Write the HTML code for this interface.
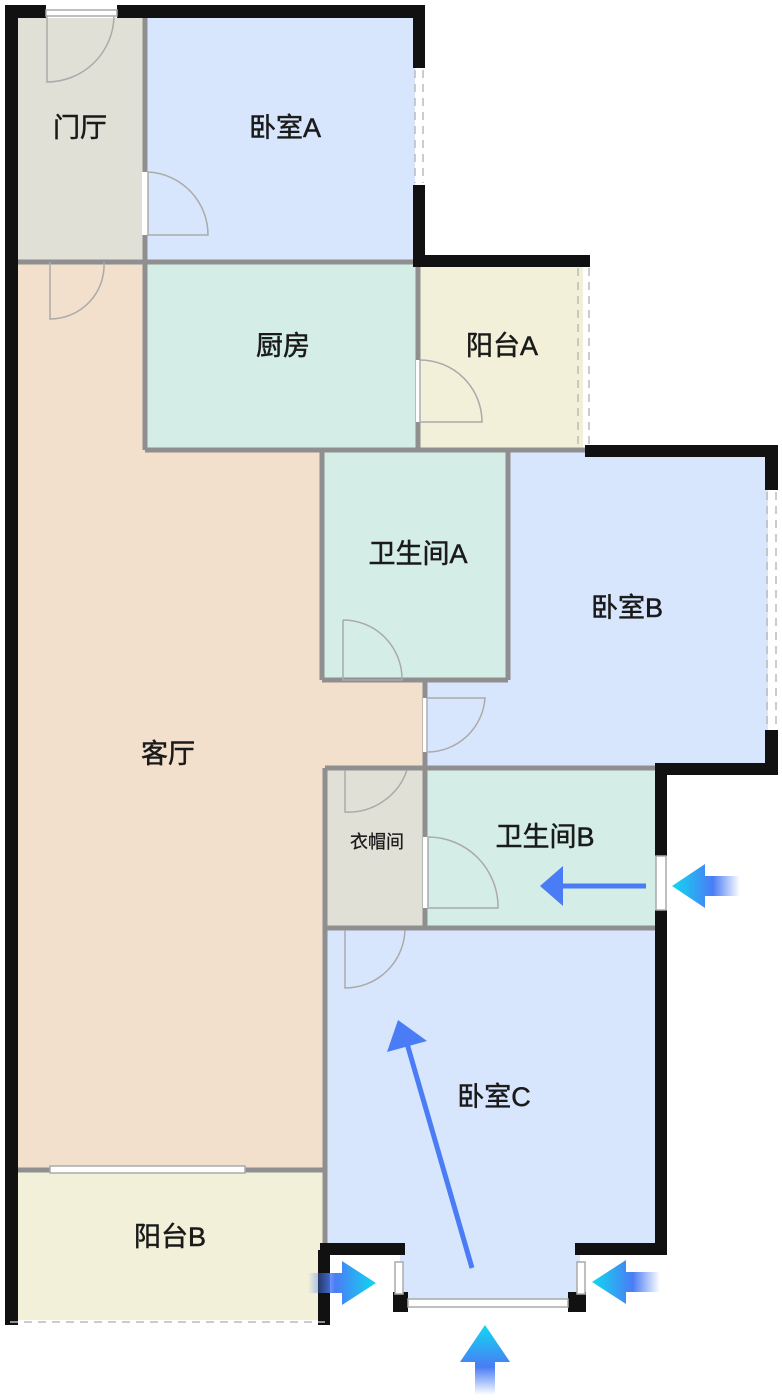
<!DOCTYPE html>
<html><head><meta charset="utf-8"><style>
html,body{margin:0;padding:0;background:#fff;}
svg{display:block}
text{font-family:"Liberation Sans","Noto Sans CJK SC",sans-serif;fill:#1a1a1a;text-anchor:middle;dominant-baseline:middle}
</style></head><body>
<svg width="782" height="1400" viewBox="0 0 782 1400" xmlns="http://www.w3.org/2000/svg">
<defs>
<linearGradient id="gl" x1="0" x2="1" y1="0" y2="0"><stop offset="0" stop-color="#10d8f0"/><stop offset="0.6" stop-color="#4a7cf5"/><stop offset="1" stop-color="#4a7cf5" stop-opacity="0"/></linearGradient>
<linearGradient id="gr" x1="1" x2="0" y1="0" y2="0"><stop offset="0" stop-color="#10d8f0"/><stop offset="0.6" stop-color="#4a7cf5"/><stop offset="1" stop-color="#4a7cf5" stop-opacity="0"/></linearGradient>
<linearGradient id="gu" x1="0" x2="0" y1="0" y2="1"><stop offset="0" stop-color="#10d8f0"/><stop offset="0.6" stop-color="#4a7cf5"/><stop offset="1" stop-color="#4a7cf5" stop-opacity="0"/></linearGradient>
</defs>
<!-- fills -->
<rect x="18" y="262" width="407" height="908" fill="#f2dfcc"/>
<rect x="18" y="18" width="127" height="244" fill="#e0e0d6"/>
<rect x="145" y="18" width="270" height="244" fill="#d8e6fd"/>
<rect x="145" y="262" width="273" height="188" fill="#d4ede6"/>
<rect x="418" y="266" width="165" height="184" fill="#f2f0d8"/>
<rect x="425" y="450" width="343" height="318" fill="#d8e6fd"/>
<rect x="322" y="450" width="186" height="230" fill="#d4ede6"/>
<rect x="325" y="768" width="100" height="160" fill="#e0e0d6"/>
<rect x="425" y="768" width="235" height="160" fill="#d4ede6"/>
<rect x="325" y="928" width="335" height="325" fill="#d8e6fd"/>
<rect x="400" y="1250" width="180" height="55" fill="#d8e6fd"/>
<rect x="18" y="1170" width="307" height="150" fill="#f2f0d8"/>
<!-- grey interior walls -->
<g stroke="#8f8f8f" stroke-width="5" fill="none">
<line x1="145" y1="12" x2="145" y2="450"/>
<line x1="12" y1="262" x2="420" y2="262"/>
<line x1="418" y1="262" x2="418" y2="450"/>
<line x1="145" y1="450" x2="322" y2="450"/>
<line x1="322" y1="450" x2="585" y2="450"/>
<line x1="322" y1="450" x2="322" y2="680"/>
<line x1="508" y1="450" x2="508" y2="680"/>
<line x1="322" y1="680" x2="508" y2="680"/>
<line x1="425" y1="680" x2="425" y2="928"/>
<line x1="325" y1="768" x2="660" y2="768"/>
<line x1="325" y1="768" x2="325" y2="1255"/>
<line x1="325" y1="928" x2="662" y2="928"/>
<line x1="18" y1="1170" x2="325" y2="1170"/>
</g>
<!-- black exterior walls -->
<g fill="#111">
<rect x="5" y="5" width="13" height="1320"/>
<rect x="5" y="5" width="41" height="13"/>
<rect x="117" y="5" width="308" height="13"/>
<rect x="413" y="5" width="12" height="63"/>
<rect x="413" y="185" width="12" height="82"/>
<rect x="413" y="255" width="177" height="12"/>
<rect x="585" y="445" width="193" height="12"/>
<rect x="765" y="445" width="13" height="45"/>
<rect x="765" y="730" width="13" height="45"/>
<rect x="655" y="763" width="123" height="12"/>
<rect x="655" y="768" width="12" height="88"/>
<rect x="655" y="910" width="12" height="345"/>
<rect x="575" y="1243" width="92" height="12"/>
<rect x="575" y="1243" width="12" height="10"/>
<rect x="320" y="1243" width="85" height="12"/>
<rect x="318" y="1250" width="12" height="75"/>
<rect x="393" y="1292" width="15" height="20"/>
<rect x="568" y="1292" width="18" height="20"/>
</g>
<!-- windows -->
<g stroke="#aaa" stroke-width="1.5" fill="#fff">
<rect x="46" y="10" width="71" height="6"/>
<rect x="408" y="1299" width="160" height="8"/>
<rect x="395" y="1262" width="8" height="32"/>
<rect x="577" y="1262" width="8" height="32"/>
<rect x="656" y="856" width="10" height="54"/>
<rect x="50" y="1166" width="195" height="7"/>
</g>
<g stroke="#bbb" stroke-width="1.5" stroke-dasharray="8,6" fill="none">
<line x1="415" y1="70" x2="415" y2="183"/><line x1="423" y1="70" x2="423" y2="183"/>
<line x1="578" y1="268" x2="578" y2="448"/><line x1="589" y1="268" x2="589" y2="448"/>
<line x1="767" y1="492" x2="767" y2="728"/><line x1="776" y1="492" x2="776" y2="728"/>
<line x1="10" y1="1322" x2="325" y2="1322"/>
</g>
<!-- door gaps -->
<g fill="#fff"><rect x="142" y="172" width="6" height="63"/><rect x="416" y="360" width="5" height="62"/><rect x="423" y="698" width="5" height="54"/><rect x="423" y="837" width="5" height="71"/></g>
<!-- doors -->
<g stroke="#aaa" stroke-width="1.5" fill="none">
<path d="M47 16 V82 A67 67 0 0 0 114 16"/>
<path d="M148 172 V235 H208 A63 63 0 0 0 148 172"/>
<path d="M50 262 V319 A54 54 0 0 0 104 262"/>
<path d="M420 360 V422 H482 A62 62 0 0 0 420 360"/>
<path d="M343 620 V680 H402 A59 59 0 0 0 343 620"/>
<path d="M427 698 V752 A58 58 0 0 0 485 698 H427"/>
<path d="M345 770 V812 A62 62 0 0 0 407 770"/>
<path d="M428 837 V908 H498 A70 70 0 0 0 428 837"/>
<path d="M345 930 V988 A60 60 0 0 0 405 930"/>
</g>
<!-- flow arrows -->
<line x1="472" y1="1268" x2="406" y2="1040" stroke="#4a7cf5" stroke-width="5"/>
<polygon points="398,1020 427,1041 387,1052" fill="#4a7cf5"/>
<line x1="646" y1="886" x2="560" y2="886" stroke="#4a7cf5" stroke-width="5"/>
<polygon points="540,886 563,866 563,906" fill="#4a7cf5"/>
<!-- gradient arrows -->
<polygon points="672,886 705,864 705,876 740,876 740,896 705,896 705,908" fill="url(#gl)"/>
<polygon points="592,1282 626,1260 626,1272 660,1272 660,1292 626,1292 626,1304" fill="url(#gl)"/>
<polygon points="376,1283 342,1261 342,1273 308,1273 308,1293 342,1293 342,1305" fill="url(#gr)"/>
<polygon points="485,1325 510,1362 495,1362 495,1395 475,1395 475,1362 460,1362" fill="url(#gu)"/>
<!-- labels -->
<g font-size="27" stroke="#1a1a1a" stroke-width="0.5">
<text x="80" y="130">门厅</text>
<text x="285" y="130">卧室A</text>
<text x="283" y="348">厨房</text>
<text x="502" y="348">阳台A</text>
<text x="418" y="556">卫生间A</text>
<text x="627" y="610">卧室B</text>
<text x="168" y="756">客厅</text>
<text x="545" y="839">卫生间B</text>
<text x="494" y="1099">卧室C</text>
<text x="170" y="1239">阳台B</text>
</g>
<text x="377" y="843" font-size="18" stroke="#1a1a1a" stroke-width="0.3">衣帽间</text>
</svg>
</body></html>
